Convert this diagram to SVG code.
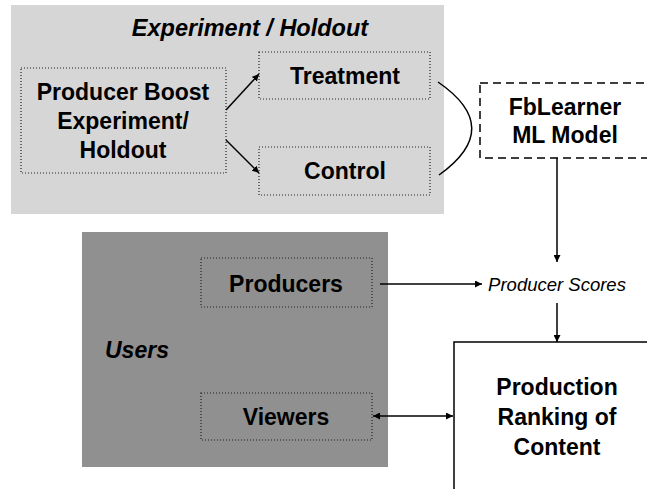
<svg xmlns="http://www.w3.org/2000/svg" width="647" height="489" viewBox="0 0 647 489">
<defs>
<style>
.t{font-family:"Liberation Sans",Arial,sans-serif;font-weight:bold;font-size:23px;fill:#000;text-anchor:middle}
.it{font-style:italic}
.st{text-anchor:start}
.ps{font-family:"Liberation Sans",Arial,sans-serif;font-style:italic;font-size:18.5px;fill:#000;text-anchor:middle}
.dot{fill:none;stroke:#222;stroke-width:1.2;stroke-dasharray:1 2}
.ln{fill:none;stroke:#000;stroke-width:1.5}
</style>
<marker id="ah" viewBox="0 0 10 10" refX="10" refY="5" markerWidth="7" markerHeight="7" markerUnits="userSpaceOnUse" orient="auto-start-reverse">
<path d="M0,0 L10,5 L0,10 z" fill="#000"/>
</marker>
</defs>
<rect x="0" y="0" width="647" height="489" fill="#fff"/>
<g id="experiment-panel">
<rect x="11" y="5" width="433" height="209" fill="#d6d6d6"/>
<text class="t it" x="250" y="36" style="font-size:23.5px">Experiment / Holdout</text>
</g>
<g id="users-panel">
<rect x="82" y="232" width="306" height="235" fill="#909090"/>
<text class="t it st" x="105" y="358">Users</text>
</g>
<g id="producer-boost">
<rect class="dot" x="21" y="68" width="205" height="105"/>
<text class="t" x="123" y="100">Producer Boost</text>
<text class="t" x="123" y="129">Experiment/</text>
<text class="t" x="123" y="158">Holdout</text>
</g>
<g id="treatment">
<rect class="dot" x="259" y="52" width="171" height="47"/>
<text class="t" x="345" y="84">Treatment</text>
</g>
<g id="control">
<rect class="dot" x="259" y="147" width="171" height="48"/>
<text class="t" x="345" y="179">Control</text>
</g>
<g id="fblearner">
<rect x="480" y="83" width="190" height="75" fill="none" stroke="#000" stroke-width="1.5" stroke-dasharray="8 5"/>
<text class="t" x="565" y="115">FbLearner</text>
<text class="t" x="565" y="143">ML Model</text>
</g>
<g id="producer-scores">
<text class="ps" x="557" y="291">Producer Scores</text>
</g>
<g id="producers">
<rect class="dot" x="201" y="258" width="171" height="49"/>
<text class="t" x="286" y="292">Producers</text>
</g>
<g id="viewers">
<rect class="dot" x="201" y="393" width="171" height="47"/>
<text class="t" x="286" y="425">Viewers</text>
</g>
<g id="production-ranking">
<rect x="454" y="342" width="210" height="160" fill="#fff" stroke="#000" stroke-width="1.5"/>
<text class="t" x="557" y="395">Production</text>
<text class="t" x="557" y="425">Ranking of</text>
<text class="t" x="557" y="455">Content</text>
</g>
<g id="connectors">
<line class="ln" x1="226" y1="110" x2="259" y2="74" marker-end="url(#ah)"/>
<line class="ln" x1="226" y1="140" x2="259" y2="173" marker-end="url(#ah)"/>
<path class="ln" d="M438,82 Q505,128 439,175"/>
<line class="ln" x1="557" y1="158" x2="557" y2="262" marker-end="url(#ah)"/>
<line class="ln" x1="380" y1="284" x2="482" y2="284" marker-end="url(#ah)"/>
<line class="ln" x1="557" y1="303" x2="557" y2="342" marker-end="url(#ah)"/>
<line class="ln" x1="373" y1="416" x2="453" y2="416" marker-start="url(#ah)" marker-end="url(#ah)"/>
</g>
</svg>
